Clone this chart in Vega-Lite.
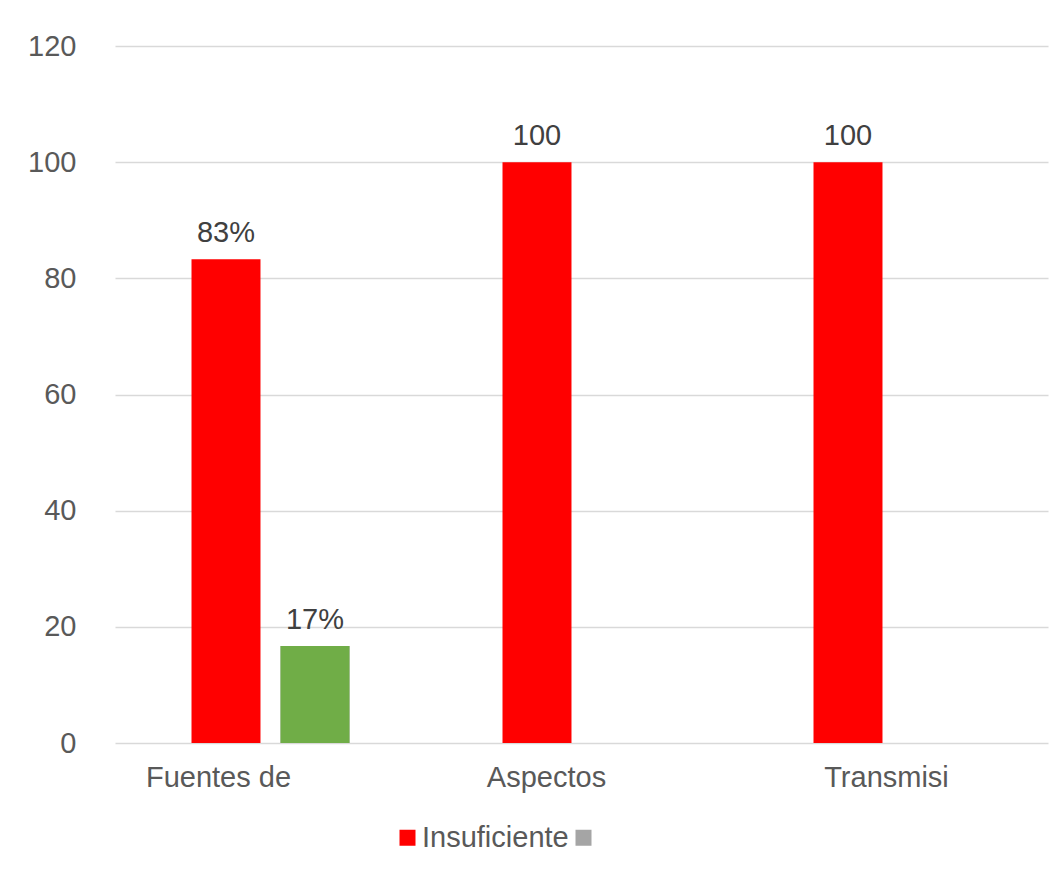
{
  "$schema": "https://vega.github.io/schema/vega-lite/v6.json",
  "autosize": {"type": "none"},
  "width": 933,
  "height": 697,
  "padding": {"left": 115, "top": 46, "right": 14, "bottom": 126},
  "background": "#ffffff",
  "config": {
    "font": "Liberation Sans",
    "view": {"stroke": null}
  },
  "data": {
    "values": [
      {"categoria": "Fuentes de", "serie": "Insuficiente", "valor": 83.3, "etiqueta": "83%"},
      {"categoria": "Fuentes de", "serie": "", "valor": 16.7, "etiqueta": "17%"},
      {"categoria": "Aspectos", "serie": "Insuficiente", "valor": 100, "etiqueta": "100"},
      {"categoria": "Aspectos", "serie": "", "valor": 0, "etiqueta": ""},
      {"categoria": "Transmisi", "serie": "Insuficiente", "valor": 100, "etiqueta": "100"},
      {"categoria": "Transmisi", "serie": "", "valor": 0, "etiqueta": ""}
    ]
  },
  "encoding": {
    "x": {
      "field": "categoria",
      "type": "nominal",
      "sort": null,
      "scale": {"paddingInner": 0.492, "paddingOuter": 0.246},
      "axis": {
        "title": null,
        "ticks": false,
        "domain": false,
        "labelAngle": 0,
        "labelFontSize": 29,
        "labelColor": "#595959",
        "labelPadding": 20,
        "labelOffset": {
          "condition": [
            {"test": "datum.value === 'Fuentes de'", "value": -52},
            {"test": "datum.value === 'Aspectos'", "value": -35}
          ],
          "value": -6
        }
      }
    },
    "xOffset": {
      "field": "serie",
      "type": "nominal",
      "sort": ["Insuficiente", ""],
      "scale": {"paddingInner": 0.225, "paddingOuter": 0}
    },
    "y": {
      "field": "valor",
      "type": "quantitative",
      "scale": {"domain": [0, 120], "nice": false},
      "axis": {
        "title": null,
        "values": [0, 20, 40, 60, 80, 100, 120],
        "ticks": false,
        "domain": false,
        "grid": true,
        "gridColor": "#d9d9d9",
        "gridWidth": 1.4,
        "labelFontSize": 29,
        "labelColor": "#595959",
        "labelPadding": 39
      }
    }
  },
  "layer": [
    {
      "mark": {"type": "bar"},
      "encoding": {
        "color": {
          "field": "serie",
          "type": "nominal",
          "scale": {"domain": ["Insuficiente", ""], "range": ["#ff0000", "#a5a5a5"]},
          "legend": {
            "title": null,
            "orient": "none",
            "direction": "horizontal",
            "legendX": 278,
            "legendY": 777,
            "symbolType": "square",
            "symbolSize": 256,
            "symbolStrokeWidth": 0,
            "symbolOpacity": 1,
            "labelFontSize": 29,
            "labelColor": "#595959",
            "labelOffset": 0,
            "columnPadding": -7
          }
        }
      }
    },
    {
      "transform": [{"filter": "datum.serie === ''"}],
      "mark": {"type": "bar", "color": "#70ad47"}
    },
    {
      "transform": [{"filter": "datum.etiqueta !== ''"}],
      "mark": {"type": "text", "dy": -17, "baseline": "alphabetic", "fontSize": 29, "color": "#404040"},
      "encoding": {"text": {"field": "etiqueta"}}
    }
  ]
}
